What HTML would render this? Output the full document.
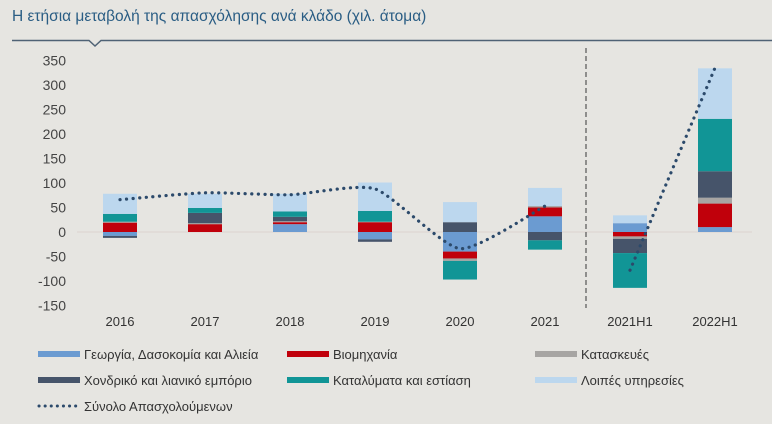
<!DOCTYPE html>
<html><head><meta charset="utf-8">
<style>
html,body{margin:0;padding:0;background:#e6e5e1;}
body{width:772px;height:419px;overflow:hidden;font-family:"Liberation Sans",sans-serif;}
</style></head>
<body>
<svg width="772" height="419" viewBox="0 0 772 419" xmlns="http://www.w3.org/2000/svg" font-family="Liberation Sans, sans-serif">
<rect width="772" height="419" fill="#e6e5e1"/>
<text x="12" y="21" font-size="15.5" fill="#2a5d84">Η ετήσια μεταβολή της απασχόλησης ανά κλάδο (χιλ. άτομα)</text>
<path d="M12 40.5 H89 L95 46 L101 40.5 H772" fill="none" stroke="#4f6275" stroke-width="1.5"/>
<g id="axis"></g>
<line x1="77" x2="752" y1="232" y2="232" stroke="#dcd4d0" stroke-width="1"/>
<g id="bars"></g>
<line x1="586" x2="586" y1="48" y2="308" stroke="#555" stroke-width="1.2" stroke-dasharray="5,3"/>
<g id="line"></g>
<g id="xlabels"></g>
<g id="legend"></g>
</svg>
<script>
const categories=["2016","2017","2018","2019","2020","2021","2021H1","2022H1"];
const agri=[-8,0,16,-15,-40,32,18,10];
const industry=[19,16,4,20,-14,18,-9,48];
const construction=[2,2,2,1,-5,3,-5,12];
const trade=[-4,21,9,-5,20,-17,-29,54];
const hotels=[16,10,11,22,-38,-19,-71,107];
const other=[41,29,36,58,41,37,16,103];
const total=[66,80,76,88,-34,53,-78,335];
const yTicks=[350,300,250,200,150,100,50,0,-50,-100,-150];
const seriesNames=["Γεωργία, Δασοκομία και Αλιεία","Βιομηχανία","Κατασκευές","Χονδρικό και λιανικό εμπόριο","Καταλύματα και εστίαση","Λοιπές υπηρεσίες"];
const ns="http://www.w3.org/2000/svg";
const colors=["#6b9bd1","#c0000b","#a7a5a3","#46546a","#119596","#bcd7ee"];
const series=[agri,industry,construction,trade,hotels,other];
function y(v){return 232-v*0.49;}
function x(i){return 120+i*85;}
function mk(t,a,p){const e=document.createElementNS(ns,t);for(const k in a)e.setAttribute(k,a[k]);p.appendChild(e);return e;}
const ax=document.getElementById('axis');
yTicks.forEach(v=>{const t=mk('text',{x:66,y:y(v)+5,'text-anchor':'end','font-size':14,fill:'#444'},ax);t.textContent=v;

});
const bg=document.getElementById('bars');
categories.forEach((c,i)=>{let pos=0,neg=0;
series.forEach((s,k)=>{const v=s[i];if(!v)return;let y0,y1;
if(v>0){y0=y(pos+v);y1=y(pos);pos+=v;}else{y0=y(neg);y1=y(neg+v);neg+=v;}
const r=mk('rect',{x:x(i)-17,y:y0,width:34,height:y1-y0,fill:colors[k]},bg);

});
const t=mk('text',{x:x(i),y:326,'text-anchor':'middle','font-size':13,fill:'#333'},document.getElementById('xlabels'));t.textContent=c;

});
function smooth(pts){let d=`M${pts[0][0]} ${pts[0][1]}`;for(let i=0;i<pts.length-1;i++){const p0=pts[i-1]||pts[i],p1=pts[i],p2=pts[i+1],p3=pts[i+2]||p2;const t=0.1;
d+=` C${p1[0]+(p2[0]-p0[0])*t} ${p1[1]+(p2[1]-p0[1])*t} ${p2[0]-(p3[0]-p1[0])*t} ${p2[1]-(p3[1]-p1[1])*t} ${p2[0]} ${p2[1]}`;}return d;}
const lg=document.getElementById('line');
const segA=[],segB=[];
total.forEach((v,i)=>{(i<6?segA:segB).push([x(i),y(v)]);});
[segA,segB].forEach(s=>{const p=mk('path',{d:smooth(s),fill:'none',stroke:'#2c4a6b','stroke-width':3.2,'stroke-dasharray':'0.1,6.5','stroke-linecap':'round'},lg);

});
const leg=document.getElementById('legend');
const lx=[38,287,535],ly=[354,380];
seriesNames.forEach((n,k)=>{const cx=lx[k%3],cy=ly[Math.floor(k/3)];
const r=mk('rect',{x:cx,y:cy-3,width:42,height:6,fill:colors[k]},leg);


const t=mk('text',{x:cx+46,y:cy+5,'font-size':13,fill:'#333'},leg);t.textContent=n;

});
const dl=mk('line',{x1:39,x2:80,y1:406,y2:406,stroke:'#2c4a6b','stroke-width':3,'stroke-dasharray':'0.1,6','stroke-linecap':'round'},leg);


const tl=mk('text',{x:84,y:411,'font-size':13,fill:'#333'},leg);tl.textContent="Σύνολο Απασχολούμενων";


</script>
</body></html>
